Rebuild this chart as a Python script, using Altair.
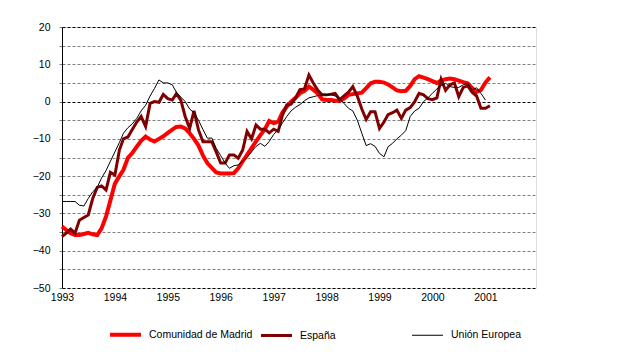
import altair as alt
import pandas as pd

start_month = "1993-01-01"

madrid = [-33.5, -34.5, -35.3, -35.8, -35.8, -35.5, -35.2, -35.6, -35.8, -34.0,
          -30.8, -26.5, -22.0, -20.0, -18.3, -15.1, -13.8, -12.1, -10.5, -9.4,
          -10.2, -10.7, -10.0, -9.3, -8.4, -7.5, -6.8, -6.7, -7.2, -8.5,
          -10.0, -11.8, -14.5, -16.5, -17.8, -19.0, -19.3, -19.3, -19.3, -19.2,
          -17.9, -16.0, -14.3, -12.5, -10.7, -9.0, -7.4, -5.2, -5.8, -5.4,
          -3.0, -1.4, 0.0, 1.0, 2.2, 2.9, 4.0, 3.2, 2.2, 0.6,
          0.4, 0.4, 0.2, 0.2, 0.8, 1.8, 2.0, 2.2, 2.4, 3.6,
          4.9, 5.3, 5.3, 5.1, 4.6, 3.8, 3.0, 2.8, 2.9, 4.2,
          6.0, 6.8, 6.4, 6.0, 5.5, 5.0, 5.6, 6.0, 6.2, 6.0,
          5.6, 5.2, 4.9, 3.6, 2.6, 3.1, 5.1, 6.5]

espana = [-36.2, -35.2, -34.2, -35.3, -31.8, -31.1, -30.4, -26.0, -23.0, -22.6,
          -23.7, -19.0, -19.7, -13.0, -10.0, -9.5, -7.5, -5.5, -4.0, -6.7,
          -0.5, 0.0, -0.2, 1.9, 0.8, 0.4, 2.1, 0.4, -4.0, -7.2,
          -2.5, -7.6, -10.8, -10.8, -10.8, -13.5, -16.5, -16.5, -14.3, -14.3,
          -15.2, -13.0, -8.0, -10.0, -6.3, -7.4, -7.4, -8.4, -7.4, -8.0,
          -3.8, -0.9, -0.7, 1.0, 3.2, 3.4, 7.1, 5.0, 3.0, 1.8,
          1.8, 2.0, 2.2, 0.5, 1.5, 2.5, 4.0, 1.5, -2.0, -4.8,
          -2.7, -2.7, -7.2, -5.5, -3.5, -3.0, -2.3, -4.5, -2.3, -1.6,
          0.0, 2.2, 1.8, 0.8, 0.5, 1.0, 6.0, 3.0, 4.5, 5.0,
          1.3, 3.8, 4.2, 2.5, 1.5, -1.8, -1.8, -1.1]

ue = [-26.8, -26.8, -26.8, -26.8, -27.8, -28.0, -26.0, -24.2, -23.0, -20.5,
      -18.5, -16.0, -13.5, -11.0, -8.5, -7.0, -6.0, -4.5, -2.5, -1.0,
      1.5, 3.5, 5.8, 5.0, 5.0, 4.5, 2.5, 1.2, 0.0, -2.0,
      -3.0, -5.0, -7.5, -9.8, -9.8, -12.5, -14.5, -16.5, -17.9, -17.2,
      -17.0, -16.0, -15.0, -13.5, -12.0, -11.2, -12.0, -10.7, -8.8, -7.6,
      -5.8, -4.0, -2.5, -1.5, -0.8, 0.2, 1.0, 1.3, 1.6, 1.8,
      1.8, 1.8, 1.5, 0.8, -0.5, -1.8, -2.5, -5.0, -8.5, -11.8,
      -11.3, -12.0, -13.9, -14.8, -12.1, -11.2, -10.0, -9.0, -7.8, -4.0,
      -2.5, -1.8, 0.0, 1.0, 2.2, 3.4, 4.3, 4.9, 4.0, 3.8,
      3.8, 4.5, 4.9, 3.1, 3.7, 2.2, 0.4]

series_names = ["Comunidad de Madrid", "España", "Unión Europea"]
series_colors = ["#FF0000", "#800000", "#000000"]
series_widths = [4, 3, 1]
year_ticks = list(range(1993, 2002))
y_ticks = list(range(-50, 25, 5))

rows = []
for name, vals in zip(series_names, [madrid, espana, ue]):
    dates = pd.date_range(start_month, periods=len(vals), freq="MS")
    for d, v in zip(dates, vals):
        rows.append({"serie": name, "fecha": d, "valor": v})
df = pd.DataFrame(rows)

FONT = "Liberation Sans"

legend_common = dict(
    title=None,
    orient="none",
    legendX=46,
    legendY=290,
    direction="horizontal",
    columns=3,
    gridAlign="all",
    columnPadding=2,
    symbolType="stroke",
    symbolSize=961,
    labelOffset=6,
    labelFont=FONT,
    labelFontSize=10.5,
    labelColor="#000000",
    padding=0,
)

chart = alt.Chart(df).mark_line(strokeJoin="miter", strokeCap="butt").encode(
    x=alt.X(
        "fecha:T",
        scale=alt.Scale(domain=[alt.DateTime(year=1993, month=1, date=1),
                                alt.DateTime(year=2001, month=12, date=16)]),
        axis=alt.Axis(
            title=None,
            values=[alt.DateTime(year=y, month=1, date=1) for y in year_ticks],
            format="%Y",
            grid=False,
            ticks=False,
            domain=False,
            labelFont=FONT,
            labelFontSize=10.5,
            labelColor="#000000",
            labelPadding=4,
            labelFlush=False,
        ),
    ),
    y=alt.Y(
        "valor:Q",
        scale=alt.Scale(domain=[-50, 20], nice=False, zero=False),
        axis=alt.Axis(
            title=None,
            values=y_ticks,
            labelExpr="datum.value % 10 == 0 ? datum.label : ''",
            grid=True,
            gridDash=[3, 2],
            gridWidth=1,
            gridColor={"condition": {"test": "datum.value == 0 || datum.value == 20 || datum.value == -50",
                                     "value": "#000000"},
                       "value": "#808080"},
            domainColor="#000000",
            domainWidth=1,
            tickColor="#808080",
            tickSize=3,
            labelPadding=9,
            labelFont=FONT,
            labelFontSize=10.5,
            labelColor="#000000",
        ),
    ),
    color=alt.Color("serie:N",
                    scale=alt.Scale(domain=series_names, range=series_colors),
                    legend=alt.Legend(**legend_common)),
    strokeWidth=alt.StrokeWidth("serie:N",
                                scale=alt.Scale(type="ordinal", domain=series_names, range=series_widths),
                                legend=alt.Legend(**legend_common)),
).properties(
    width=474,
    height=261,
    autosize=alt.AutoSizeParams(type="none"),
    padding={"left": 54, "top": 19, "right": 96, "bottom": 63},
).configure_view(strokeWidth=0).configure(background="#FFFFFF")

chart.save("out.html", embed_options={"renderer": "svg", "actions": False})
